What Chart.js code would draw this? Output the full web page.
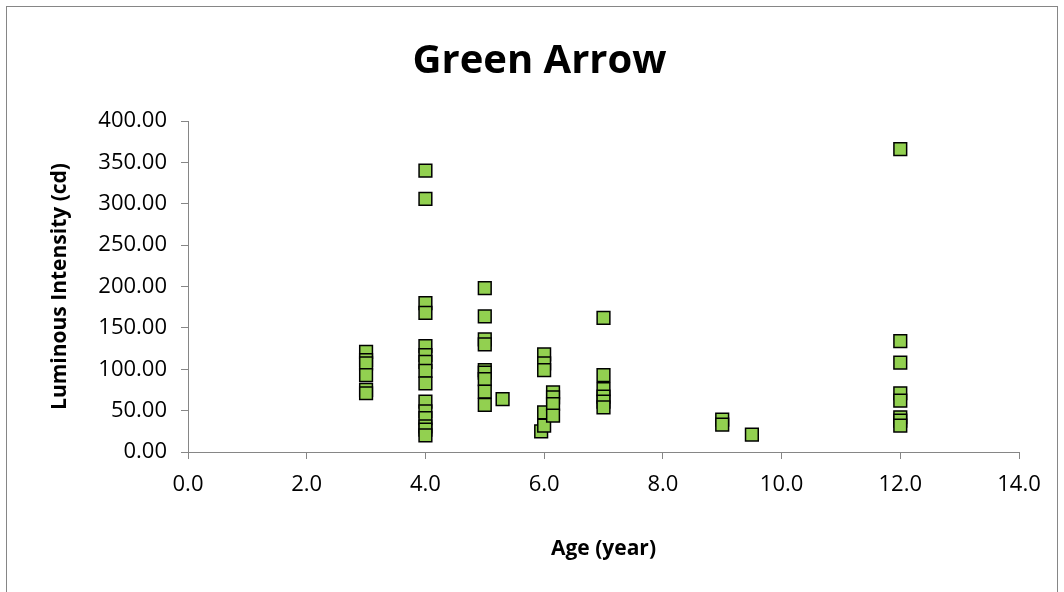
<!DOCTYPE html>
<html>
<head>
<meta charset="utf-8">
<title>Green Arrow</title>
<script src="https://cdn.jsdelivr.net/npm/chart.js@4/dist/chart.umd.min.js"></script>
<style>
  html, body { margin: 0; padding: 0; background: #fff; }
  #wrap { width: 1064px; height: 592px; }
</style>
</head>
<body>
<div id="wrap"><canvas id="scatter-chart" width="1064" height="592"></canvas></div>
<script>
// ages (year) and the luminous intensity read at each one
const ageYears = [
  3, 3, 3, 3, 3, 3,
  4, 4, 4, 4, 4, 4, 4, 4, 4, 4, 4, 4, 4, 4, 4,
  5, 5, 5, 5, 5, 5, 5, 5, 5, 5.3,
  5.95, 6, 6, 6, 6, 6, 6.15, 6.15, 6.15, 6.15,
  7, 7, 7, 7, 7, 7,
  9, 9, 9.5,
  12, 12, 12, 12, 12, 12, 12, 12
];
const intensityCd = [
  121, 111, 107, 93, 75, 71,
  340, 306, 180, 168, 128, 117, 109, 98, 83, 61, 49, 41, 31, 27, 20,
  198, 164, 136, 130, 99, 96, 88, 73, 57, 64,
  25, 118, 107, 99, 48, 32, 72, 66, 58, 44,
  162, 93, 76, 67, 61, 54,
  39, 33, 21,
  366, 134, 108, 71, 62, 42, 38, 32
];
const yTicks = [0, 50, 100, 150, 200, 250, 300, 350, 400];
const xTicks = [0, 2, 4, 6, 8, 10, 12, 14];

const points = ageYears.map((a, i) => ({ x: a, y: intensityCd[i] }));
const axisGrey = '#868686';
const fontFamily = '"Open Sans", "Noto Sans", sans-serif';

// grey frame round the whole chart, like the spreadsheet chart border
const frame = {
  id: 'frame',
  beforeDraw(chart) {
    const ctx = chart.ctx;
    ctx.save();
    ctx.fillStyle = '#fff';
    ctx.fillRect(0, 0, chart.width, chart.height);
    ctx.strokeStyle = axisGrey;
    ctx.lineWidth = 1;
    ctx.strokeRect(6.5, 6.5, 1051, 620);
    ctx.restore();
  }
};

new Chart(document.getElementById('scatter-chart'), {
  type: 'scatter',
  data: {
    datasets: [{
      label: 'Green Arrow',
      data: points,
      pointStyle: 'rect',
      pointRadius: 9,
      pointHoverRadius: 9,
      backgroundColor: '#92D050',
      borderColor: '#000',
      borderWidth: 1.5
    }]
  },
  options: {
    responsive: false,
    animation: false,
    layout: { padding: { left: 60, right: 45, top: 10, bottom: 0 } },
    plugins: {
      legend: { display: false },
      tooltip: { enabled: false },
      title: {
        display: true,
        text: 'Green Arrow',
        color: '#000',
        font: { family: fontFamily, size: 40, weight: 'bold' },
        padding: { top: 28, bottom: 35 }
      }
    },
    scales: {
      x: {
        type: 'linear',
        min: 0,
        max: 14,
        afterBuildTicks: (axis) => { axis.ticks = xTicks.map(v => ({ value: v })); },
        afterFit: (axis) => { axis.height = 140; },
        grid: { display: true, drawOnChartArea: false, drawTicks: true, tickLength: 7, color: axisGrey },
        border: { color: axisGrey, width: 1 },
        ticks: {
          padding: 13,
          color: '#000',
          font: { family: fontFamily, size: 22 },
          maxRotation: 0,
          callback: (v) => Number(v).toFixed(1)
        },
        title: {
          display: true,
          text: 'Age (year)',
          color: '#000',
          font: { family: fontFamily, size: 21, weight: 'bold' },
          padding: { top: 0, bottom: 30 }
        }
      },
      y: {
        type: 'linear',
        min: 0,
        max: 400,
        afterBuildTicks: (axis) => { axis.ticks = yTicks.map(v => ({ value: v })); },
        afterFit: (axis) => { axis.width = 128; },
        grid: { display: true, drawOnChartArea: false, drawTicks: true, tickLength: 7, color: axisGrey },
        border: { color: axisGrey, width: 1 },
        ticks: {
          padding: 14,
          color: '#000',
          font: { family: fontFamily, size: 22 },
          callback: (v) => Number(v).toFixed(2)
        },
        title: {
          display: true,
          text: 'Luminous Intensity (cd)',
          color: '#000',
          font: { family: fontFamily, size: 21, weight: 'bold' },
          padding: { top: -13, bottom: 0 }
        }
      }
    }
  },
  plugins: [frame]
});
</script>
</body>
</html>
